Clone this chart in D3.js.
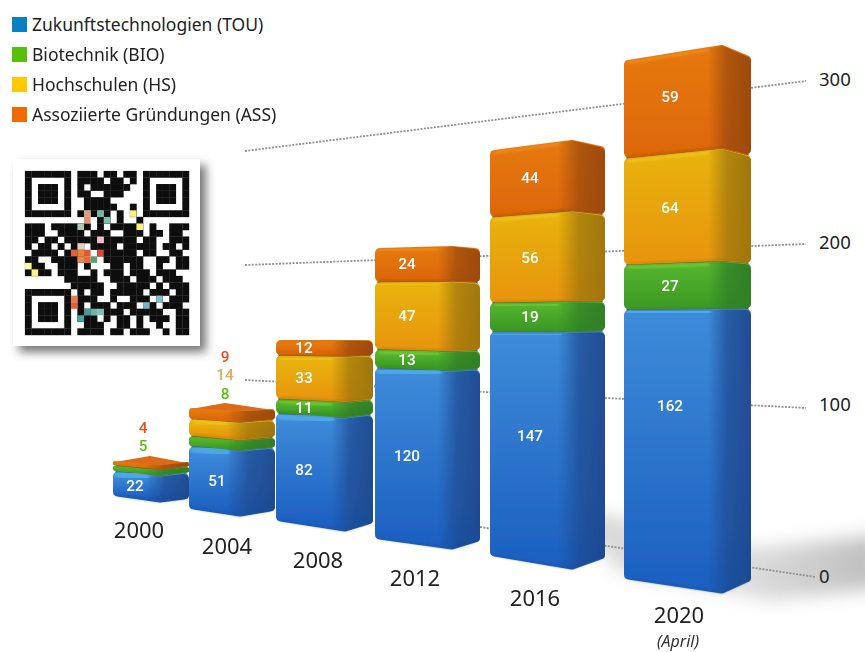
<!DOCTYPE html>
<html lang="de">
<head>
<meta charset="utf-8">
<title>Gründungen</title>
<script src="https://cdn.jsdelivr.net/npm/d3@7"></script>
<style>
  html, body { margin: 0; padding: 0; background: #fff; }
  svg { display: block; font-family: "Noto Sans", sans-serif; }
</style>
</head>
<body>
<svg id="chart" width="865" height="652" viewBox="0 0 865 652"></svg>
<script>
// Cumulative start-ups per year, stacked by programme
const years = ["2000", "2004", "2008", "2012", "2016", "2020"];
const tou = [22, 51, 82, 120, 147, 162];
const bio = [5, 8, 11, 13, 19, 27];
const hs  = [0, 14, 33, 47, 56, 64];
const ass = [4, 9, 12, 24, 44, 59];

const seriesKeys = ["tou", "bio", "hs", "ass"];
const seriesValues = { tou, bio, hs, ass };
const legendLabels = [
  "Zukunftstechnologien (TOU)",
  "Biotechnik (BIO)",
  "Hochschulen (HS)",
  "Assoziierte Gründungen (ASS)"
];
const axisTicks = [0, 100, 200, 300];

// Perspective frame of each column: three vertical edges, each with its own height scale
const frames = [
  { xL: 113, xV: 160, xR: 189, bot: [497, 503, 500], top: [461, 465, 462], back: [150, 457], lx: 135, yearX: 139, yearY: 538 },
  { xL: 189, xV: 240, xR: 275, bot: [510, 517, 512], top: [408, 411, 409], back: [225, 404], lx: 217, yearX: 227, yearY: 554 },
  { xL: 276, xV: 345, xR: 373, bot: [522, 532, 525], top: [340, 340, 340], back: null, lx: 304, yearX: 318, yearY: 568 },
  { xL: 375, xV: 452, xR: 480, bot: [540, 550, 543], top: [248, 246, 248], back: null, lx: 407, yearX: 415, yearY: 586 },
  { xL: 490, xV: 572, xR: 605, bot: [557, 570, 560], top: [150, 140, 146], back: null, lx: 530, yearX: 535, yearY: 606 },
  { xL: 624, xV: 722, xR: 751, bot: [580, 594, 583], top: [60, 45, 55], back: null, lx: 670, yearX: 679, yearY: 623 }
];
// Where the label sits inside the bottom and top segments (share of their height)
const touLabelShare = [0.5, 0.5, 0.5, 0.5, 0.55, 0.65];
const assLabelShare = [0.5, 0.5, 0.5, 0.5, 0.52, 0.56];

const palette = {
  tou: { swatch: "#0a7fc1", hi: "#4ea8ea", top: "#3d8bd9", bot: "#1c5fc0", side: "#1f4a90" },
  bio: { swatch: "#5abf0a", hi: "#6cc83a", top: "#54b32c", bot: "#3d9c26", side: "#2f7d28" },
  hs:  { swatch: "#ffc800", hi: "#f2c21a", top: "#e8b20e", bot: "#e8960a", side: "#9c7410" },
  ass: { swatch: "#f06a00", hi: "#ee8a1e", top: "#e57810", bot: "#de6806", side: "#99480f" }
};

const svg = d3.select("#chart");
const defs = svg.append("defs");

const addBlur = (id, sd) => defs.append("filter").attr("id", id)
  .attr("x", "-30%").attr("y", "-30%").attr("width", "160%").attr("height", "160%")
  .append("feGaussianBlur").attr("stdDeviation", sd);
addBlur("soft", 0.6);
addBlur("glow", 1.3);
addBlur("floor", 9);
addBlur("qrSoft", 0.75);
addBlur("paperShadow", 5);

seriesKeys.forEach(k => {
  const p = palette[k];
  const face = defs.append("linearGradient").attr("id", "face-" + k)
    .attr("x1", 0).attr("x2", 0).attr("y1", 0).attr("y2", 1);
  face.append("stop").attr("offset", "0%").attr("stop-color", p.top);
  face.append("stop").attr("offset", "100%").attr("stop-color", p.bot);
  const side = defs.append("linearGradient").attr("id", "side-" + k)
    .attr("x1", 0).attr("x2", 1).attr("y1", 0).attr("y2", 0);
  side.append("stop").attr("offset", "0%").attr("stop-color", p.side).attr("stop-opacity", 0);
  side.append("stop").attr("offset", "45%").attr("stop-color", p.side).attr("stop-opacity", 0.72);
  side.append("stop").attr("offset", "100%").attr("stop-color", p.side).attr("stop-opacity", 0.95);
});

const floorFade = defs.append("linearGradient").attr("id", "floorFade")
  .attr("x1", 0).attr("x2", 1).attr("y1", 0).attr("y2", 0);
floorFade.append("stop").attr("offset", "0%").attr("stop-color", "#d8d8d8");
floorFade.append("stop").attr("offset", "60%").attr("stop-color", "#dcdcdc");
floorFade.append("stop").attr("offset", "100%").attr("stop-color", "#bdbdbd");

// Floor shadow behind the tallest columns
svg.append("path")
  .attr("d", "M560,505 L760,548 L880,535 L880,588 L770,600 L620,572 Z")
  .attr("fill", "url(#floorFade)")
  .attr("filter", "url(#floor)");

// Axis: the tick spacing follows the drawing's perspective, so the scale is piecewise
const axisY = d3.scaleLinear().domain(axisTicks).range([577, 405, 243, 80]);
const leaderStart = [[480, 527], [245, 380], [245, 265], [245, 151]];
const leaderEnd = [[815, 577], [806, 408], [806, 244], [806, 81]];

svg.append("g").selectAll("line").data(axisTicks).join("line")
  .attr("x1", (d, i) => leaderStart[i][0]).attr("y1", (d, i) => leaderStart[i][1])
  .attr("x2", (d, i) => leaderEnd[i][0]).attr("y2", (d, i) => leaderEnd[i][1])
  .attr("stroke", "#8f8f8f").attr("stroke-width", 1.8).attr("stroke-dasharray", "2 1.4");

const axis = svg.append("g").attr("transform", "translate(809,0)")
  .call(d3.axisRight(axisY).tickValues(axisTicks).tickSize(0).tickPadding(10));
axis.select(".domain").remove();
axis.selectAll("text").attr("font-size", 18.5).attr("fill", "#222")
  .attr("font-family", "'Noto Sans', sans-serif");

// Columns
const bars = svg.append("g").attr("filter", "url(#soft)");

years.forEach((year, i) => {
  const f = frames[i];
  const total = seriesKeys.reduce((s, k) => s + seriesValues[k][i], 0);
  const yL = d3.scaleLinear().domain([0, total]).range([f.bot[0], f.top[0]]);
  const yV = d3.scaleLinear().domain([0, total]).range([f.bot[1], f.top[1]]);
  const yR = d3.scaleLinear().domain([0, total]).range([f.bot[2], f.top[2]]);
  const g = bars.append("g");

  // Top lid, visible only where the eye is above the column
  if (f.back) {
    g.append("path")
      .attr("d", `M${f.xL + 2},${yL(total) + 2} L${f.back[0]},${f.back[1]} L${f.xR - 2},${yR(total) + 2} L${f.xV},${yV(total) + 2} Z`)
      .attr("fill", "#dd6a14")
      .attr("stroke", "#dd6a14").attr("stroke-width", 2).attr("stroke-linejoin", "round");
  }

  // Dark core that shows as seams between the blocks
  g.append("path")
    .attr("d", `M${f.xL + 2.5},${yL(total) + 3} L${f.xV},${yV(total) + 3} L${f.xR - 2.5},${yR(total) + 3}
      L${f.xR - 2.5},${yR(0) - 3} L${f.xV},${yV(0) - 3} L${f.xL + 2.5},${yL(0) - 3} Z`)
    .attr("fill", "#5a5a4a");

  let base = 0;
  const stacks = [];
  seriesKeys.forEach(k => {
    const v = seriesValues[k][i];
    if (v > 0) stacks.push({ k, v, v0: base, v1: base + v });
    base += v;
  });

  stacks.forEach(s => {
    const p = palette[s.k];
    const h = yL(s.v0) - yL(s.v1);
    const r = Math.min(5, h / 3.2);
    const bL = yL(s.v0) - r - 0.5, bV = yV(s.v0) - r - 0.5, bR = yR(s.v0) - r - 0.5;
    const tL = yL(s.v1) + r, tV = yV(s.v1) + r, tR = yR(s.v1) + r;
    const a = f.xL + r, b = f.xV, c = f.xR - r;

    g.append("path")
      .attr("d", `M${a},${tL} L${b},${tV} L${c},${tR} L${c},${bR} L${b},${bV} L${a},${bL} Z`)
      .attr("fill", `url(#face-${s.k})`)
      .attr("stroke", `url(#face-${s.k})`)
      .attr("stroke-width", r * 2).attr("stroke-linejoin", "round");

    // Receding side of the block, fading into the front face
    const sideStart = b - Math.min(14, (f.xR - f.xV) * 0.5);
    const tS = tV + (tL - tV) * (b - sideStart) / (b - a);
    const bS = bV + (bL - bV) * (b - sideStart) / (b - a);
    g.append("path")
      .attr("d", `M${sideStart},${tS - r * 0.7} L${b},${tV - r * 0.9} L${c},${tR - r * 0.8} Q${c + r},${tR - r * 0.6} ${c + r},${tR + r * 0.3}
        L${c + r},${bR} Q${c + r},${bR + r} ${c},${bR + r * 0.9} L${b},${bV + r * 0.9} L${sideStart},${bS + r * 0.9} Z`)
      .attr("fill", `url(#side-${s.k})`);

    // Highlight on the upper edge, darker seam along the lower edge
    if (h > 14) {
      g.append("path")
        .attr("d", `M${a},${tL - r + 2.5} L${sideStart},${tS - r + 2.5}`)
        .attr("fill", "none").attr("stroke", p.hi)
        .attr("stroke-width", s.k === "tou" ? 7 : 3).attr("stroke-linecap", "round")
        .attr("filter", "url(#glow)");
      g.append("path")
        .attr("d", `M${a},${bL + r - 1} L${b},${bV + r - 1} L${c},${bR + r - 1}`)
        .attr("fill", "none").attr("stroke", p.side).attr("stroke-opacity", 0.5)
        .attr("stroke-width", 1.6).attr("stroke-linecap", "round")
        .attr("filter", "url(#glow)");
    }
  });

  // Value labels inside the blocks; the two short columns only label their base block
  const t = (f.lx - f.xL) / (f.xV - f.xL);
  const labelled = i < 2 ? stacks.filter(s => s.k === "tou") : stacks;
  labelled.forEach(s => {
    const share = s.k === "tou" ? touLabelShare[i] : s.k === "ass" ? assLabelShare[i] : 0.5;
    const v = s.v0 + s.v * share;
    const y = yL(v) + (yV(v) - yL(v)) * t;
    svg.append("text").datum(s.v)
      .attr("x", f.lx).attr("y", y).attr("dy", "0.3em")
      .attr("text-anchor", "middle")
      .attr("font-family", "Roboto, sans-serif")
      .attr("font-size", 15.3).attr("font-weight", 500).attr("fill", "#fff")
      .text(s.v);
  });

  // Year under the column
  svg.append("text")
    .attr("x", f.yearX).attr("y", f.yearY)
    .attr("text-anchor", "middle").attr("font-size", 22).attr("fill", "#222")
    .text(year);
});

svg.append("text")
  .attr("x", 678).attr("y", 647).attr("text-anchor", "middle")
  .attr("font-size", 16).attr("font-style", "italic").attr("fill", "#333")
  .text("(April)");

// Values of the thin blocks are called out above the short columns
const calloutRows = [
  { i: 0, k: "ass", x: 143, y: 428, color: "#ee4a1c" },
  { i: 0, k: "bio", x: 143, y: 446, color: "#5cc010" },
  { i: 1, k: "ass", x: 225, y: 357, color: "#ee4a1c" },
  { i: 1, k: "hs",  x: 225, y: 375, color: "#eaa655" },
  { i: 1, k: "bio", x: 225, y: 394, color: "#5cc010" }
];
svg.append("g").selectAll("text").data(calloutRows).join("text")
  .attr("x", d => d.x).attr("y", d => d.y).attr("dy", "0.35em")
  .attr("text-anchor", "middle")
  .attr("font-family", "Roboto, sans-serif").attr("font-size", 15.3).attr("font-weight", 500)
  .attr("fill", d => d.color)
  .text(d => seriesValues[d.k][d.i]);

// Legend
const legendRow = d3.scalePoint().domain(seriesKeys).range([25, 115]);
const legend = svg.append("g").selectAll("g").data(seriesKeys).join("g")
  .attr("transform", k => `translate(12,${legendRow(k)})`);
legend.append("rect").attr("x", 0).attr("y", -8).attr("width", 15).attr("height", 15)
  .attr("fill", k => palette[k].swatch);
legend.append("text").attr("x", 20).attr("y", 0).attr("dy", "0.35em")
  .attr("font-size", 17.5).attr("fill", "#222")
  .text((k, i) => legendLabels[i]);

// QR code card
const finder = ["1111111", "1000001", "1011101", "1011101", "1011101", "1000001", "1111111"];
const qrTop = [
  "01110110110", "01111011010", "01011111100", "01100111000",
  "00111100000", "00111110010", "01010101010"
];
const qrBody = [
  "0000000000011010010000000",
  "1110111111010111110100111",
  "1110011110111001110110110",
  "1101101111101111101100111",
  "1011010110111101111101101",
  "0111101110011111101100110",
  "1100111110001111110011011",
  "1110011101000110110010011",
  "1111011100101110111011100",
  "0000001111100111011101110",
  "0000000111110011111010111"
];
const qrBottom = [
  "010110111110111011", "011100100111010111", "010111011101101110",
  "011001110111110011", "011101011010111011", "001110011010010011",
  "011110110111001011"
];
const qrRows = [
  ...finder.map((row, r) => row + qrTop[r] + finder[r]),
  ...qrBody,
  ...finder.map((row, r) => row + qrBottom[r])
];
// Photo tint printed into the centre of the code
const qrTints = [
  [9, 6, "#d9a27e"], [11, 6, "#6fb8a4"], [9, 7, "#d98f6f"], [12, 7, "#7dbfae"], [8, 8, "#b6c4b8"],
  [7, 12, "#e2603c"], [8, 12, "#e8803a"], [9, 12, "#d85a38"], [8, 13, "#ef8a50"], [9, 13, "#e9653e"],
  [10, 13, "#5b9e72"], [11, 12, "#d84a3a"], [8, 11, "#e6d0c0"], [11, 10, "#f0c0c8"],
  [7, 20, "#e2603c"], [7, 19, "#e67a4a"], [8, 22, "#3fa8a0"], [9, 21, "#4a9a94"], [10, 21, "#6fb4a8"],
  [11, 21, "#84bdb0"], [18, 20, "#7ab4c0"], [20, 19, "#7fc0cc"], [16, 6, "#fff27a"], [17, 8, "#fff27a"],
  [1, 15, "#fff27a"], [0, 14, "#fdf7a0"]
];

const card = svg.append("g");
card.append("rect").attr("x", 19).attr("y", 165).attr("width", 187).attr("height", 187)
  .attr("fill", "#4a4a4a").attr("opacity", 0.75).attr("filter", "url(#paperShadow)");
card.append("rect").attr("x", 13).attr("y", 159).attr("width", 187).attr("height", 187).attr("fill", "#fff");

const qrSize = 6.56;
const qrX = d3.scaleLinear().domain([0, 25]).range([25, 25 + 25 * qrSize]);
const qrY = d3.scaleLinear().domain([0, 25]).range([171, 171 + 25 * qrSize]);
const qrCells = [];
qrRows.forEach((row, r) => row.split("").forEach((c, col) => { if (c === "1") qrCells.push([col, r]); }));
const qr = card.append("g").attr("filter", "url(#qrSoft)");
qr.selectAll("rect.m").data(qrCells).join("rect").attr("class", "m")
  .attr("x", d => qrX(d[0]) - 0.1).attr("y", d => qrY(d[1]) - 0.1)
  .attr("width", qrSize + 0.3).attr("height", qrSize + 0.3).attr("fill", "#0a0a0a");
qr.selectAll("rect.t").data(qrTints).join("rect").attr("class", "t")
  .attr("x", d => qrX(d[0])).attr("y", d => qrY(d[1]))
  .attr("width", qrSize).attr("height", qrSize).attr("fill", d => d[2]);
</script>
</body>
</html>
